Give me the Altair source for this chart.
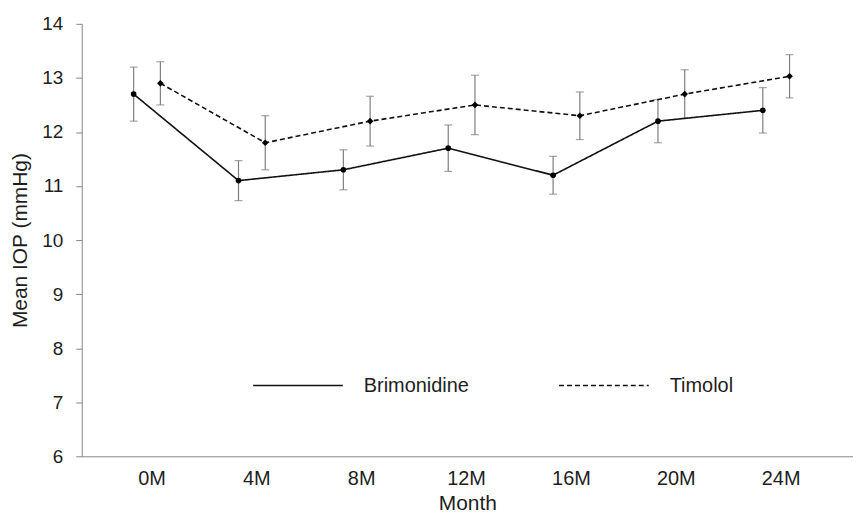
import altair as alt
import pandas as pd

months = ["0M", "4M", "8M", "12M", "16M", "20M", "24M"]
series = ["Brimonidine", "Timolol"]
brim_mean = [12.7, 11.1, 11.3, 11.7, 11.2, 12.2, 12.4]
brim_err = [0.50, 0.37, 0.37, 0.43, 0.35, 0.40, 0.42]
tim_mean = [12.9, 11.8, 12.2, 12.5, 12.3, 12.7, 13.03]
tim_err = [0.40, 0.50, 0.46, 0.55, 0.44, 0.45, 0.40]

# small horizontal displacement of each series inside a month slot
shift = {"Brimonidine": -0.17, "Timolol": 0.085}

rows = []
for name, means, errs in [("Brimonidine", brim_mean, brim_err), ("Timolol", tim_mean, tim_err)]:
    for i, (m, e) in enumerate(zip(means, errs)):
        rows.append({"series": name, "month": months[i], "pos": i + shift[name],
                     "mean": m, "lo": m - e, "hi": m + e})
df = pd.DataFrame(rows)

FONT = "Liberation Sans"
TXT = "#1e1e1e"
label_expr = "[" + ",".join("'%s'" % m for m in months) + "][datum.value]"

x_enc = alt.X("pos:Q", scale=alt.Scale(domain=[-0.665, 6.69], nice=False, zero=False),
              axis=alt.Axis(values=list(range(len(months))), labelExpr=label_expr,
                            title="Month", ticks=False, tickSize=0, grid=False,
                            labelPadding=12, titlePadding=4, domainColor="#868686",
                            labelFontSize=20, titleFontSize=21, labelColor=TXT,
                            titleColor=TXT, labelFont=FONT, titleFont=FONT,
                            titleFontWeight="normal"))
y_scale = alt.Scale(domain=[6, 14], nice=False, zero=False)
y_axis = alt.Axis(values=list(range(6, 15)), title="Mean IOP (mmHg)", grid=False,
                  tickSize=6, tickColor="#868686", domainColor="#868686",
                  labelPadding=13, titlePadding=11, labelFontSize=19, titleFontSize=21,
                  labelColor=TXT, titleColor=TXT, labelFont=FONT, titleFont=FONT,
                  titleFontWeight="normal")

base = alt.Chart(df)

bars = base.mark_rule(color="#7f7f7f", strokeWidth=1.2).encode(
    x=x_enc, y=alt.Y("lo:Q", scale=y_scale, axis=y_axis), y2="hi:Q")
cap_hi = base.mark_tick(color="#7f7f7f", orient="horizontal", size=8, thickness=1.2).encode(
    x="pos:Q", y="hi:Q")
cap_lo = base.mark_tick(color="#7f7f7f", orient="horizontal", size=8, thickness=1.2).encode(
    x="pos:Q", y="lo:Q")

lines = base.mark_line(color="#111", strokeWidth=1.6).encode(
    x="pos:Q", y="mean:Q",
    strokeDash=alt.StrokeDash("series:N",
                              scale=alt.Scale(domain=series, range=[[1, 0], [5, 3]]),
                              legend=alt.Legend(title=None, orient="none", legendX=171,
                                                legendY=317, direction="horizontal",
                                                symbolType="stroke", symbolSize=8100,
                                                symbolStrokeColor="#111",
                                                symbolStrokeWidth=1.6, labelOffset=20,
                                                columnPadding=86, labelFontSize=20,
                                                labelFont=FONT, labelColor=TXT,
                                                padding=0)))
pts_b = base.transform_filter(alt.datum.series == "Brimonidine").mark_point(
    filled=True, color="#000", opacity=1, shape="circle", size=32).encode(x="pos:Q", y="mean:Q")
pts_t = base.transform_filter(alt.datum.series == "Timolol").mark_point(
    filled=True, color="#000", opacity=1, shape="diamond", size=45).encode(x="pos:Q", y="mean:Q")

chart = alt.layer(bars, cap_hi, cap_lo, lines, pts_b, pts_t).properties(
    width=774, height=434, autosize="none",
    padding={"left": 74, "top": 15, "right": 0, "bottom": 58},
    background="white",
).configure_view(stroke=None)

chart.save("out.html", embed_options={"renderer": "svg", "actions": False})
